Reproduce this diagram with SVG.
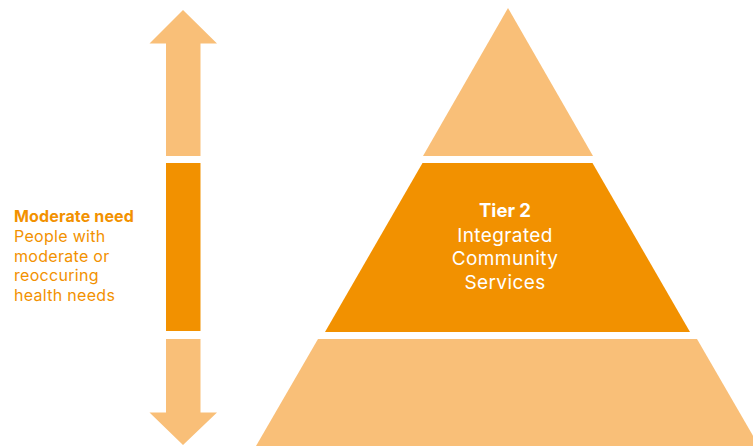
<svg xmlns="http://www.w3.org/2000/svg" width="753" height="446" viewBox="0 0 753 446">
<style>
.light{fill:#F9BF78}
.dark{fill:#F29100}
.lt{font-family:Inter,"Open Sans",sans-serif;font-size:16px;letter-spacing:0.3px;fill:#F29100}
.ct{font-family:Inter,"Open Sans",sans-serif;font-size:19px;letter-spacing:0.4px;fill:#FFFFFF;text-anchor:middle}
.lt.b{letter-spacing:0.15px}
.ct.b{letter-spacing:0px;font-size:18.5px}
.b{font-weight:bold}
</style>
<rect width="753" height="446" fill="#FFFFFF"/>
<g id="arrow">
<polygon class="light" points="183,10 217,43.5 200.5,43.5 200.5,156 166,156 166,43.5 149.5,43.5"/>
<rect class="dark" x="166" y="163" width="34.5" height="168"/>
<polygon class="light" points="166,339 200.5,339 200.5,412.5 217,412.5 183,445 149.5,412.5 166,412.5"/>
</g>
<g id="label-moderate">
<text class="lt b" x="14" y="222">Moderate need</text>
<text class="lt" x="14" y="241.8">People with</text>
<text class="lt" x="14" y="261.6">moderate or</text>
<text class="lt" x="14" y="281.4">reoccuring</text>
<text class="lt" x="14" y="301.2">health needs</text>
</g>
<g id="tier-top">
<polygon class="light" points="508,8 593,156 423,156"/>
</g>
<g id="tier-2">
<polygon class="dark" points="422.5,163 592.5,163 690,332 325,332"/>
<text class="ct b" x="505" y="216.7">Tier 2</text>
<text class="ct" x="505" y="241.5">Integrated</text>
<text class="ct" x="505" y="265.3">Community</text>
<text class="ct" x="505" y="289">Services</text>
</g>
<g id="tier-bottom">
<polygon class="light" points="318,339 697,339 759,446 256,446"/>
</g>
</svg>
